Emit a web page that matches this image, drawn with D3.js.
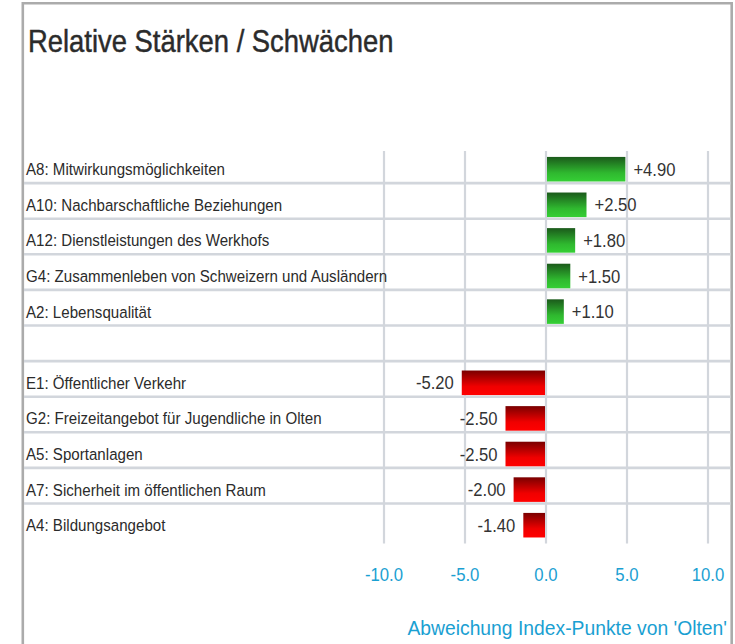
<!DOCTYPE html>
<html>
<head>
<meta charset="utf-8">
<script src="https://cdn.jsdelivr.net/npm/d3@7"></script>
<style>
  html, body { margin: 0; padding: 0; background: #fff; }
  svg { display: block; }
  text { font-family: "Liberation Sans", Arial, sans-serif; }
</style>
</head>
<body>
<svg id="chart" width="735" height="644"></svg>
<script>
const categories = [
  "A8: Mitwirkungsmöglichkeiten",
  "A10: Nachbarschaftliche Beziehungen",
  "A12: Dienstleistungen des Werkhofs",
  "G4: Zusammenleben von Schweizern und Ausländern",
  "A2: Lebensqualität",
  "",
  "E1: Öffentlicher Verkehr",
  "G2: Freizeitangebot für Jugendliche in Olten",
  "A5: Sportanlagen",
  "A7: Sicherheit im öffentlichen Raum",
  "A4: Bildungsangebot"
];
const values = [4.90, 2.50, 1.80, 1.50, 1.10, null, -5.20, -2.50, -2.50, -2.00, -1.40];
const tickValues = [-10, -5, 0, 5, 10];
const titleText = "Relative Stärken / Schwächen";
const axisTitle = "Abweichung Index-Punkte von 'Olten'";

const svg = d3.select("#chart");
const keys = categories.map((c, i) => i);

const x = d3.scaleLinear().domain([-10, 10]).range([384, 708]);
const y = d3.scaleBand().domain(keys).range([151.4, 543]).paddingInner(0.31).paddingOuter(0.155);

// condensed text helper (narrow face not installed)
const place = (sel, px, py, sx) => sel.attr("transform", (d, i) => {
  const X = typeof px === "function" ? px(d, i) : px;
  const Y = typeof py === "function" ? py(d, i) : py;
  return `translate(${X},${Y}) scale(${sx},1)`;
});

const defs = svg.append("defs");
const gGreen = defs.append("linearGradient").attr("id", "gGreen").attr("x1", 0).attr("y1", 0).attr("x2", 0).attr("y2", 1);
gGreen.append("stop").attr("offset", "0%").attr("stop-color", "#1b5a1b");
gGreen.append("stop").attr("offset", "65%").attr("stop-color", "#2fb82f");
gGreen.append("stop").attr("offset", "100%").attr("stop-color", "#35cf35");
const gRed = defs.append("linearGradient").attr("id", "gRed").attr("x1", 0).attr("y1", 0).attr("x2", 0).attr("y2", 1);
gRed.append("stop").attr("offset", "0%").attr("stop-color", "#7a0000");
gRed.append("stop").attr("offset", "65%").attr("stop-color", "#f00000");
gRed.append("stop").attr("offset", "100%").attr("stop-color", "#ff0000");

// border
svg.append("path")
  .attr("d", "M22.8,650 V3.3 H731.7 V650")
  .attr("fill", "none").attr("stroke", "#ababab").attr("stroke-width", 2.6);

// title
place(svg.append("text"), 28, 51.5, 0.87)
  .attr("font-size", 31.5).attr("fill", "#2b2b2b")
  .attr("stroke", "#2b2b2b").attr("stroke-width", 0.45)
  .text(titleText);

const gridColor = "#d2d6dc";

// vertical grid lines
svg.append("g").selectAll("line").data(tickValues).join("line")
  .attr("x1", d => x(d)).attr("x2", d => x(d))
  .attr("y1", 151).attr("y2", 543.5)
  .attr("stroke", gridColor).attr("stroke-width", 2.2);

// horizontal grid lines (below each row except last)
svg.append("g").selectAll("line").data(keys.slice(0, -1)).join("line")
  .attr("x1", 24).attr("x2", 730.5)
  .attr("y1", d => y(d) + y.bandwidth() + 1.6)
  .attr("y2", d => y(d) + y.bandwidth() + 1.6)
  .attr("stroke", gridColor).attr("stroke-width", 2.6);

// category labels
place(svg.append("g").selectAll("text").data(keys).join("text"),
      26, d => y(d) + y.bandwidth() / 2 + 6, 0.916)
  .attr("font-size", 16.5).attr("fill", "#2b2b2b")
  .text(d => categories[d]);

// bars
const barData = keys.filter(k => values[k] !== null);
svg.append("g").selectAll("rect").data(barData).join("rect")
  .attr("x", d => x(Math.min(0, values[d])) + (values[d] > 0 ? 1 : 0))
  .attr("width", d => Math.abs(x(values[d]) - x(0)) - 1)
  .attr("y", d => y(d))
  .attr("height", y.bandwidth())
  .attr("fill", d => values[d] > 0 ? "url(#gGreen)" : "url(#gRed)");

// value labels
const fmt = v => (v > 0 ? "+" : "") + v.toFixed(2);
place(svg.append("g").selectAll("text").data(barData).join("text"),
      d => values[d] > 0 ? x(values[d]) + 8 : x(values[d]) - 8,
      d => y(d) + y.bandwidth() / 2 + 6.5, 0.95)
  .attr("text-anchor", d => values[d] > 0 ? "start" : "end")
  .attr("font-size", 17.5).attr("fill", "#333")
  .text(d => fmt(values[d]));

// x axis tick labels
place(svg.append("g").selectAll("text").data(tickValues).join("text"),
      d => x(d), 581, 0.93)
  .attr("text-anchor", "middle")
  .attr("font-size", 18).attr("fill", "#1aa0d2")
  .text(d => d.toFixed(1));

// axis title
place(svg.append("text"), 727, 635, 0.92)
  .attr("text-anchor", "end")
  .attr("font-size", 21).attr("fill", "#1aa0d2")
  .text(axisTitle);
</script>
</body>
</html>
